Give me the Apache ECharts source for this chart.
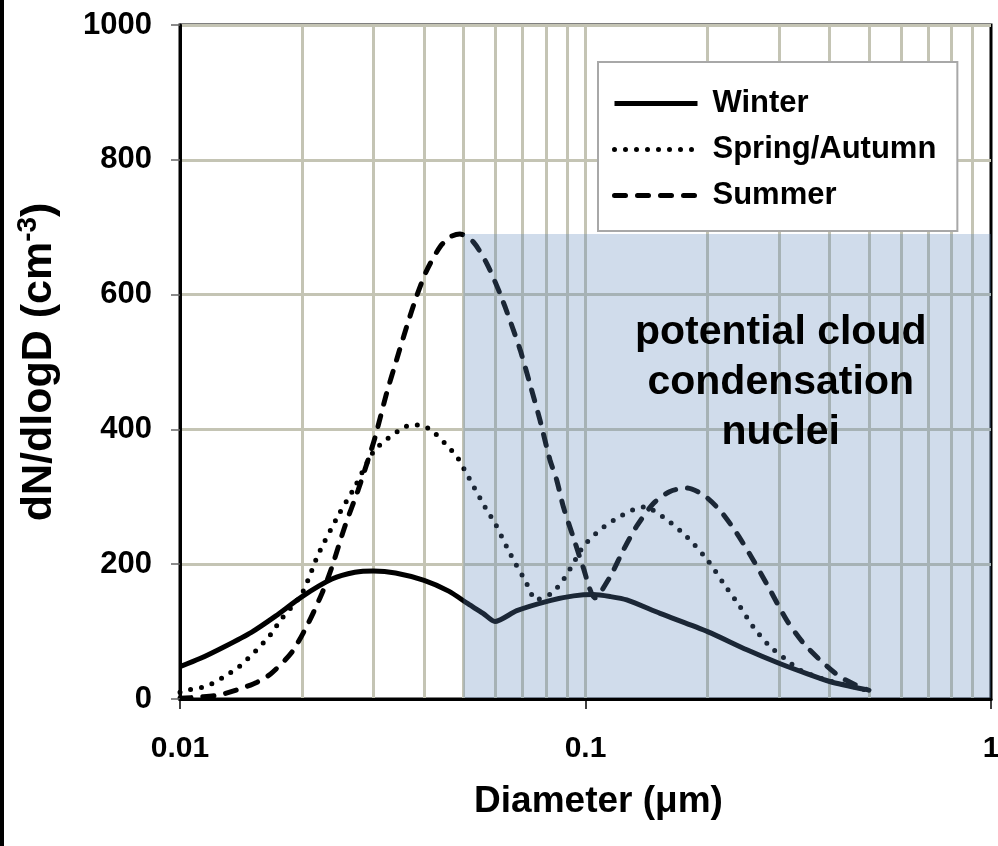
<!DOCTYPE html>
<html><head><meta charset="utf-8">
<script src="https://cdn.jsdelivr.net/npm/echarts@6/dist/echarts.min.js"></script>
<style>html,body{margin:0;padding:0;background:#fff}#c{width:998px;height:846px}</style>
</head><body><div id="c"></div>
<script>
// ---- data (diameter in µm, dN/dlogD in cm^-3) ----
const seriesNames = ['Winter', 'Spring/Autumn', 'Summer'];

const winterD = [0.01,0.0112,0.0129,0.015,0.0172,0.02,0.0237,0.027,0.03,0.034,0.04,0.046,0.0514,0.0559,0.0598,0.0677,0.0817,0.0935,0.1046,0.115,0.1264,0.1527,0.2,0.25,0.3,0.35,0.4,0.49];
const winterV = [48,60,78,99,123,152,178,188,190,187,176,160,141,127,115,131,146,153,155,152,147,127,100,73,53,38,26,14];

const springD = [0.01,0.0106,0.0113,0.0121,0.0129,0.0138,0.0147,0.0157,0.0167,0.0176,0.02,0.0219,0.0246,0.027,0.03,0.0326,0.0355,0.0373,0.04,0.0426,0.0481,0.0503,0.0571,0.0598,0.0645,0.0672,0.0702,0.0729,0.0751,0.0825,0.0882,0.0933,0.0986,0.1086,0.1194,0.1336,0.14,0.1585,0.1776,0.2,0.2188,0.2405,0.2593,0.285,0.3134,0.338,0.3934,0.475,0.5];
const springV = [10,14,17,24,34,45,60,77,95,115,157,214,273,315,367,387,402,407,405,394,360,340,280,261,221,201,181,162,147,157,177,201,226,251,268,283,285,266,241,206,172,137,107,78,58,43,28,16,12];

const summerD = [0.01,0.0112,0.0125,0.0142,0.0155,0.0168,0.0189,0.0207,0.0224,0.0237,0.0255,0.0275,0.0291,0.0303,0.0323,0.0342,0.0362,0.0383,0.0406,0.0438,0.0465,0.049,0.0529,0.0571,0.0615,0.0651,0.069,0.0729,0.0772,0.0817,0.0849,0.0882,0.0933,0.0986,0.1055,0.1149,0.124,0.1336,0.147,0.1616,0.1776,0.195,0.2146,0.236,0.2593,0.285,0.3134,0.3445,0.3787,0.4243,0.475,0.5];
const summerV = [1,3,6,16,25,38,70,112,157,196,256,310,355,389,453,503,552,597,636,671,686,690,678,646,602,562,518,468,414,355,325,285,240,196,150,181,221,256,290,308,313,303,280,246,206,162,117,83,58,33,18,13];

const yTicks = [0, 200, 400, 600, 800, 1000];
const xTickLabels = ['0.01', '0.1', '1'];
const vGridD = [0.02,0.03,0.04,0.05,0.06,0.07,0.08,0.09,0.1,0.2,0.3,0.4,0.5,0.6,0.7,0.8,0.9];
const ccnRangeD = [0.05, 1];
const ccnRangeV = [0, 690];
const ccnLabelPos = [0.303, 470];
const ccnLabelText = 'potential cloud\ncondensation\nnuclei';

const xTitle = 'Diameter (\u03bcm)';

// ---- chart ----
const FONT = '"Liberation Sans", Arial, Helvetica, sans-serif';
const chart = echarts.init(document.getElementById('c'), null, {renderer: 'canvas'});
const pairs = (d, v) => d.map((x, i) => [x, v[i]]);

const option = {
  animation: false,
  backgroundColor: '#fff',
  graphic: [{type: 'rect', left: 0, top: 0, shape: {width: 4, height: 846}, style: {fill: '#000'}, z: 100}],
  grid: {left: 180, right: 7, top: 25, bottom: 147, show: true, borderColor: '#000', borderWidth: 3, backgroundColor: 'transparent', outerBoundsMode: 'none', containLabel: false},
  legend: {
    orient: 'vertical', left: 598, top: 62,
    data: seriesNames,
    itemWidth: 83, itemHeight: 16, itemGap: 15,
    padding: [26, 21, 20, 14],
    backgroundColor: '#fff', borderColor: '#a8a8a8', borderWidth: 2,
    lineStyle: {width: 5},
    itemStyle: {opacity: 0, color: 'rgba(0,0,0,0)', borderWidth: 0},
    textStyle: {fontFamily: FONT, fontSize: 31, fontWeight: 'bold', color: '#000', padding: [0, 0, 0, 10]}
  },
  xAxis: [{
    type: 'log', logBase: 10, min: 0.01, max: 1, z: 20,
    axisLine: {show: true, lineStyle: {color: '#000', width: 3}},
    axisTick: {show: true, length: 10, lineStyle: {color: '#000', width: 1.5}},
    axisLabel: {margin: 35, fontFamily: FONT, fontSize: 30, fontWeight: 'bold', color: '#000',
      formatter: v => { const s = String(+(+v).toPrecision(2)); return xTickLabels.indexOf(s) >= 0 ? s : ''; }},
    splitLine: {show: false}, minorSplitLine: {show: false},
    name: xTitle, nameLocation: 'middle', nameGap: 84,
    nameTextStyle: {fontFamily: FONT, fontSize: 37, fontWeight: 'bold', color: '#000', padding: [0, 0, 0, 26]}
  }],
  yAxis: [{
    type: 'value', min: yTicks[0], max: yTicks[yTicks.length - 1], interval: 200, z: 20,
    axisLine: {show: true, lineStyle: {color: '#000', width: 3}},
    axisTick: {show: true, length: 9, lineStyle: {color: '#666', width: 1.5}},
    axisLabel: {margin: 28, fontFamily: FONT, fontSize: 31, fontWeight: 'bold', color: '#000',
      formatter: v => String(v)},
    splitLine: {show: false},
    name: '{a|dN/dlogD (cm}{s|-3}{a|)}', nameLocation: 'middle', nameGap: 116,
    nameTextStyle: {rich: {
      a: {fontFamily: FONT, fontSize: 43, fontWeight: 'bold', color: '#000', lineHeight: 50},
      s: {fontFamily: FONT, fontSize: 28, fontWeight: 'bold', color: '#000', verticalAlign: 'top', lineHeight: 28}
    }}
  }, {
    type: 'value', min: yTicks[0], max: yTicks[yTicks.length - 1], interval: 200, z: 0, position: 'left',
    axisLine: {show: false}, axisTick: {show: false}, axisLabel: {show: false},
    splitLine: {show: true, lineStyle: {color: '#c4c4b4', width: 3}}
  }],
  series: [{
    name: seriesNames[0], type: 'line', data: pairs(winterD, winterV), symbol: 'none', smooth: 0.25, z: 2,
    lineStyle: {color: '#000', width: 5, type: 'solid'},
    itemStyle: {color: '#000'},
    markLine: {silent: true, symbol: 'none', z: 1, animation: false, label: {show: false},
      lineStyle: {color: '#c4c4b4', width: 3, type: 'solid'}, emphasis: {disabled: true},
      data: vGridD.map(d => ({xAxis: d}))},
    markArea: {silent: true, z: 10, itemStyle: {color: 'rgba(93,133,185,0.29)'},
      data: [[{xAxis: ccnRangeD[0], yAxis: ccnRangeV[0]}, {xAxis: ccnRangeD[1], yAxis: ccnRangeV[1]}]]},
    markPoint: {silent: true, z: 20, symbol: 'circle', symbolSize: 1, itemStyle: {color: 'rgba(0,0,0,0)'},
      label: {show: true, position: 'inside', formatter: ccnLabelText, fontFamily: FONT, fontSize: 41,
        fontWeight: 'bold', color: '#000', lineHeight: 50, align: 'center'},
      data: [{coord: ccnLabelPos}]}
  }, {
    name: seriesNames[1], type: 'line', data: pairs(springD, springV), symbol: 'none', smooth: 0.25, z: 2,
    lineStyle: {color: '#000', width: 5, type: [0, 11], cap: 'round'},
    itemStyle: {color: '#000'}
  }, {
    name: seriesNames[2], type: 'line', data: pairs(summerD, summerV), symbol: 'none', smooth: 0.25, z: 2,
    lineStyle: {color: '#000', width: 5, type: [11, 12], cap: 'round'},
    itemStyle: {color: '#000'}
  }]
};
chart.setOption(option);
</script></body></html>
